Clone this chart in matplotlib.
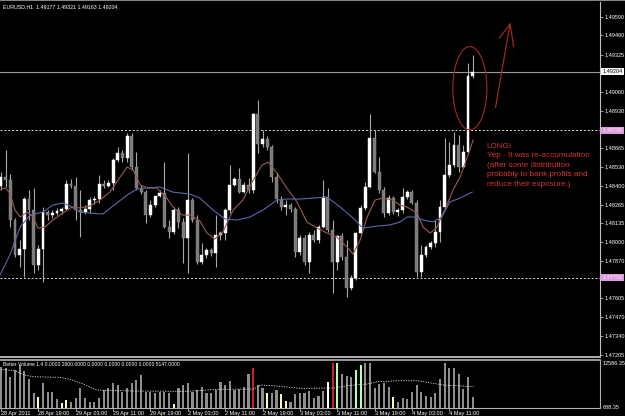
import numpy as np
import matplotlib
matplotlib.use("Agg")
import matplotlib.pyplot as plt
import matplotlib.transforms as mtransforms
from matplotlib.patches import Ellipse
from matplotlib import font_manager


def pick_font(*names):
    for n in names:
        try:
            font_manager.findfont(n, fallback_to_default=False)
            return n
        except ValueError:
            pass
    return "DejaVu Sans"


SMALL = pick_font("Liberation Sans Narrow", "Liberation Sans")
NOTE = pick_font("Liberation Sans", "DejaVu Sans")

# EURUSD H1 candles, 28 Apr 2011 11:00 .. 4 May 2011 16:00
opens = [1.48397, 1.48460, 1.48439, 1.48157, 1.47910, 1.47952, 1.48305, 1.48227, 1.47839, 1.47952,
         1.48213, 1.48192, 1.48206, 1.48220, 1.48234, 1.48411, 1.48397, 1.48227, 1.48213, 1.48234,
         1.48298, 1.48305, 1.48411, 1.48397, 1.48418, 1.48580, 1.48630, 1.48594, 1.48750, 1.48531,
         1.48383, 1.48354, 1.48192, 1.48263, 1.48326, 1.48347, 1.48107, 1.48072, 1.48227, 1.48143,
         1.48030, 1.48298, 1.48157, 1.47860, 1.47910, 1.47945, 1.47924, 1.48051, 1.48065, 1.48227,
         1.48404, 1.48446, 1.48354, 1.48404, 1.48369, 1.48905, 1.48693, 1.48729, 1.48672, 1.48460,
         1.48305, 1.48249, 1.48263, 1.48234, 1.47931, 1.48030, 1.47860, 1.48051, 1.48016, 1.48107,
         1.48319, 1.48086, 1.47860, 1.48044, 1.47896, 1.47677, 1.47747, 1.48065, 1.48242, 1.48390,
         1.48736, 1.48496, 1.48369, 1.48206, 1.48312, 1.48213, 1.48227, 1.48319, 1.48354, 1.48277,
         1.47790, 1.47910, 1.47966, 1.47994, 1.48072, 1.48249, 1.48474, 1.48545, 1.48686, 1.48531,
         1.48637, 1.49177]
highs = [1.48496, 1.48651, 1.48482, 1.48171, 1.48016, 1.48319, 1.48369, 1.48383, 1.47980, 1.48249,
         1.48227, 1.48227, 1.48242, 1.48249, 1.48439, 1.48446, 1.48460, 1.48369, 1.48263, 1.48319,
         1.48326, 1.48474, 1.48439, 1.48439, 1.48594, 1.48672, 1.48651, 1.48771, 1.48771, 1.48637,
         1.48404, 1.48369, 1.48298, 1.48312, 1.48369, 1.48566, 1.48157, 1.48249, 1.48249, 1.48171,
         1.48630, 1.48312, 1.48192, 1.47994, 1.47959, 1.47959, 1.48192, 1.48079, 1.48242, 1.48545,
         1.48460, 1.48524, 1.48425, 1.48453, 1.48912, 1.49004, 1.48792, 1.48750, 1.48686, 1.48489,
         1.48326, 1.48298, 1.48277, 1.48249, 1.48051, 1.48051, 1.48072, 1.48086, 1.48121, 1.48439,
         1.48383, 1.48157, 1.48051, 1.48065, 1.48016, 1.47768, 1.48072, 1.48263, 1.48425, 1.48905,
         1.48792, 1.48602, 1.48390, 1.48333, 1.48326, 1.48242, 1.48383, 1.48369, 1.48369, 1.48298,
         1.47980, 1.47980, 1.48008, 1.48157, 1.48298, 1.48736, 1.48707, 1.48778, 1.48757, 1.48686,
         1.49265, 1.49321]
lows = [1.48369, 1.48390, 1.48107, 1.47896, 1.47825, 1.47754, 1.48157, 1.47783, 1.47804, 1.47719,
        1.48157, 1.48171, 1.48192, 1.48199, 1.48227, 1.48383, 1.48157, 1.48037, 1.48199, 1.48206,
        1.48270, 1.48277, 1.48383, 1.48390, 1.48369, 1.48566, 1.48566, 1.48566, 1.48510, 1.48369,
        1.48340, 1.48136, 1.48178, 1.48249, 1.48319, 1.48100, 1.48030, 1.48058, 1.48100, 1.47853,
        1.47783, 1.48143, 1.47846, 1.47846, 1.47888, 1.47903, 1.47825, 1.48016, 1.48016, 1.48206,
        1.48397, 1.48347, 1.48347, 1.48347, 1.48347, 1.48630, 1.48672, 1.48651, 1.48425, 1.48277,
        1.48227, 1.48192, 1.48213, 1.47896, 1.47910, 1.47839, 1.47783, 1.48001, 1.47994, 1.48100,
        1.48072, 1.47641, 1.47804, 1.47874, 1.47613, 1.47663, 1.47732, 1.48051, 1.48227, 1.48383,
        1.48489, 1.48347, 1.48178, 1.48192, 1.48199, 1.48185, 1.48206, 1.48305, 1.48270, 1.47754,
        1.47754, 1.47896, 1.47952, 1.47966, 1.48001, 1.48242, 1.48460, 1.48531, 1.48496, 1.48524,
        1.48630, 1.49163]
closes = [1.48460, 1.48439, 1.48157, 1.47910, 1.47952, 1.48305, 1.48227, 1.47839, 1.47952, 1.48213,
          1.48192, 1.48206, 1.48220, 1.48234, 1.48411, 1.48397, 1.48227, 1.48213, 1.48234, 1.48298,
          1.48305, 1.48411, 1.48397, 1.48418, 1.48580, 1.48630, 1.48594, 1.48750, 1.48531, 1.48383,
          1.48354, 1.48192, 1.48263, 1.48326, 1.48347, 1.48107, 1.48072, 1.48227, 1.48143, 1.48030,
          1.48298, 1.48157, 1.47860, 1.47910, 1.47945, 1.47924, 1.48051, 1.48065, 1.48227, 1.48404,
          1.48446, 1.48354, 1.48404, 1.48369, 1.48905, 1.48693, 1.48729, 1.48672, 1.48460, 1.48305,
          1.48249, 1.48263, 1.48234, 1.47931, 1.48030, 1.47860, 1.48051, 1.48016, 1.48107, 1.48319,
          1.48086, 1.47860, 1.48044, 1.47896, 1.47677, 1.47747, 1.48065, 1.48242, 1.48390, 1.48736,
          1.48496, 1.48369, 1.48206, 1.48312, 1.48213, 1.48227, 1.48319, 1.48354, 1.48277, 1.47790,
          1.47910, 1.47966, 1.47994, 1.48072, 1.48249, 1.48474, 1.48545, 1.48686, 1.48531, 1.48637,
          1.49175, 1.49204]

# Better Volume histogram (ticks) and bar type: g=normal, y=low, r=climax, w=climax low, n=churn
volumes = [11600, 11160, 8960, 10720, 12040, 10544, 8256, 4560, 3680, 7200,
           5000, 5000, 2976, 2096, 2800, 2360, 3416, 5880, 3240, 2360,
           2360, 3240, 5440, 5880, 7200, 6760, 5000, 5880, 7200, 8080,
           9400, 5000, 5000, 4560, 5000, 5000, 4560, 1656, 5880, 6760,
           7200, 5000, 5440, 6320, 4560, 4560, 5440, 7640, 6760, 7816,
           5440, 5616, 6320, 9664, 11160, 6760, 5880, 4560, 4736, 5440,
           4384, 2624, 2360, 4296, 4560, 4736, 5264, 3240, 3856, 5264,
           7464, 12480, 12586, 9664, 9136, 8784, 10720, 12040, 12550, 12480,
           5880, 7024, 7200, 6144, 3504, 2184, 3240, 2976, 5000, 6760,
           5000, 3856, 3680, 4736, 8344, 12500, 11160, 11160, 9576, 5616,
           8784, 3680]
vol_kind = "ggggggggyggggyyggggggggggggggggggggggyggggggggggggggggrggyggyyggggggggwrngggnnggggggyggggggggggggggggg"

# moving averages (bar index, price)
ma_fast_x = [-0.2, 0.9, 1.9, 3.0, 4.1, 5.6, 6.9, 7.9, 9.4, 11.1, 13.3, 15.2, 16.9, 19.1, 21.2, 23.3,
             25.5, 27.0, 28.3, 29.8, 31.5, 33.4, 35.5, 36.8, 38.8, 40.5, 42.6, 44.1, 45.8, 47.5,
             49.7, 51.8, 54.0, 55.9, 57.2, 59.1, 61.2, 63.4, 65.5, 67.7, 69.8, 71.9, 74.1, 75.4,
             76.9, 78.4, 80.1, 81.8, 83.9, 85.4, 86.9, 89.1, 90.4, 91.9, 93.4, 94.0, 95.5, 96.8,
             98.3, 99.4, 100.4, 101.1]
ma_fast_y = [1.48369, 1.48383, 1.48347, 1.48227, 1.48178, 1.48213, 1.48178, 1.48100, 1.48107, 1.48157,
             1.48206, 1.48249, 1.48242, 1.48256, 1.48298, 1.48354, 1.48460, 1.48531, 1.48510, 1.48404,
             1.48383, 1.48383, 1.48312, 1.48249, 1.48192, 1.48192, 1.48150, 1.48065, 1.48023, 1.48072,
             1.48227, 1.48298, 1.48439, 1.48545, 1.48566, 1.48489, 1.48383, 1.48284, 1.48143, 1.48100,
             1.48065, 1.48037, 1.47966, 1.47917, 1.48016, 1.48178, 1.48298, 1.48312, 1.48298, 1.48263,
             1.48249, 1.48206, 1.48107, 1.48065, 1.48107, 1.48157, 1.48263, 1.48369, 1.48460, 1.48559,
             1.48651, 1.48722]
ma_slow_x = [-0.2, 1.9, 4.1, 6.2, 9.0, 11.1, 13.3, 14.8, 16.9, 19.1, 21.8, 24.8, 27.0, 29.1, 31.3,
             34.0, 36.8, 40.5, 42.6, 45.4, 48.0, 50.5, 53.3, 56.1, 59.1, 61.2, 64.0, 66.8, 69.8,
             72.6, 75.4, 77.5, 80.5, 83.3, 85.4, 86.9, 88.7, 90.4, 92.5, 94.4, 96.1, 98.3, 100.9]
ma_slow_y = [1.47769, 1.47910, 1.48107, 1.48192, 1.48213, 1.48263, 1.48277, 1.48256, 1.48213, 1.48206,
             1.48199, 1.48277, 1.48333, 1.48376, 1.48383, 1.48390, 1.48354, 1.48340, 1.48312, 1.48227,
             1.48164, 1.48157, 1.48178, 1.48227, 1.48298, 1.48305, 1.48305, 1.48312, 1.48319, 1.48249,
             1.48171, 1.48100, 1.48114, 1.48122, 1.48143, 1.48178, 1.48178, 1.48157, 1.48143, 1.48178,
             1.48284, 1.48312, 1.48354]

# average volume line (dashed)
vol_avg_x = [0, 3.0, 5.1, 6.9, 12.6, 14.8, 17.3, 20.5, 28.4, 39.8, 46.2, 54.1, 55.5, 59.1, 64.1,
             71.2, 74.8, 78.4, 80.5, 85.5, 89.1, 92.6, 94.8, 101.2]
vol_avg_y = [10896, 10544, 9400, 8960, 8784, 8256, 7200, 5440, 5176, 5088, 5616, 5704, 6760, 6496,
             5880, 5968, 6672, 7024, 7640, 7904, 7904, 7200, 6760, 6320]

price_ticks = [1.49590, 1.49460, 1.49325, 1.49060, 1.48930, 1.48665, 1.48530, 1.48400, 1.48265,
               1.48135, 1.48000, 1.47870, 1.47605, 1.47470, 1.47340, 1.47205]
level_lines = [1.48790, 1.47750]
bid = 1.49204

time_pos = [0, 8, 16, 24, 32, 40, 48, 56, 64, 72, 80, 88, 96]
time_labels = ["28 Apr 2011", "28 Apr 19:00", "29 Apr 03:00", "29 Apr 11:00", "29 Apr 19:00",
               "2 May 03:00", "2 May 11:00", "2 May 19:00", "3 May 03:00", "3 May 11:00",
               "3 May 19:00", "4 May 03:00", "4 May 11:00"]

AX_FS = 4.0

o = np.array(opens)
h = np.array(highs)
l = np.array(lows)
c = np.array(closes)
x = np.arange(len(c))
up = c >= o

fig = plt.figure(figsize=(6.25, 4.16), dpi=100, facecolor="black")
ax = fig.add_axes([0, 1 - 357 / 416, 600 / 625, 355 / 416], facecolor="black")
axv = fig.add_axes([0, 1 - 408 / 416, 600 / 625, 48 / 416], facecolor="black", sharex=ax)

# candles
ax.vlines(x, l, h, color="#a8a8a8", lw=0.8, zorder=2)
ax.bar(x[up], np.maximum(c[up] - o[up], 0.00002), bottom=o[up], width=0.62,
       color="white", edgecolor="white", lw=0.3, zorder=3)
ax.bar(x[~up], o[~up] - c[~up], bottom=c[~up], width=0.62,
       color="#7c7c7c", edgecolor="#8c8c8c", lw=0.3, zorder=3)

ax.plot(ma_fast_x, ma_fast_y, color="#9a5a50", lw=0.8, zorder=4)
ax.plot(ma_slow_x, ma_slow_y, color="#5c68a8", lw=0.8, zorder=4)

for lv in level_lines:
    ax.axhline(lv, color="#d8d8d8", lw=0.7, ls=(0, (2, 2)), zorder=1)
ax.axhline(bid, color="#9a9a9a", lw=0.8, zorder=1)

ax.set_xlim(-0.214, 128.27)
ax.set_ylim(1.47190, 1.49696)

# hand drawn annotation
red = "#a02828"
ax.add_patch(Ellipse((100.4, 1.49087), 7.3, 0.00588, fill=False, ec=red, lw=0.8, zorder=5))
ax.plot([105.9, 109.0], [1.48952, 1.49541], color=red, lw=0.9, zorder=5)
ax.plot([106.7, 109.0, 109.8], [1.49440, 1.49541, 1.49380], color=red, lw=0.9, zorder=5)
ax.text(104.0, 1.48700, "LONG!\nYep - It was re-accumulation\n(after some distribution\n"
        "probably to bank profits and\nreduce their exposure.)",
        color="#d43434", fontsize=5.9, family=NOTE, va="top", ha="left", linespacing=1.48)

ax.text(0.005, 0.993, "EURUSD,H1  1.49177 1.49321 1.49163 1.49204", transform=ax.transAxes,
        color="white", fontsize=3.8, family=SMALL, va="top", ha="left")

# price axis on the right
ax.yaxis.tick_right()
ax.set_yticks(price_ticks)
ax.set_yticklabels([f"{p:.5f}" for p in price_ticks])
ax.tick_params(axis="y", length=2, width=0.6, color="#b0b0b0", labelcolor="white",
               labelsize=AX_FS, pad=1)
for lbl in ax.get_yticklabels():
    lbl.set_family(SMALL)
ax.tick_params(axis="x", bottom=False, labelbottom=False)

blend = mtransforms.blended_transform_factory(ax.transAxes, ax.transData)
ax.text(1.004, bid, f"{bid:.5f}", transform=blend, fontsize=AX_FS, family=SMALL, color="black",
        va="center", ha="left", bbox=dict(boxstyle="square,pad=0.2", fc="white", ec="none"))
for lv in level_lines:
    ax.text(1.004, lv, f"{lv:.5f}", transform=blend, fontsize=AX_FS, family=SMALL, color="#fbe4fb",
            va="center", ha="left", bbox=dict(boxstyle="square,pad=0.2", fc="#dc9cdc", ec="none"))

for side in ["top", "left"]:
    ax.spines[side].set_visible(False)
ax.spines["right"].set_color("#c0c0c0")
ax.spines["bottom"].set_color("#b0b0b0")
ax.spines["bottom"].set_linewidth(1.4)

# volume panel
kind_colors = {"g": "#8e8e8e", "y": "#ffffb4", "r": "#c82222", "w": "#ffffff", "n": "#b4ffb4"}
axv.bar(x, volumes, width=0.45, color=[kind_colors[k] for k in vol_kind], zorder=2)
axv.plot(vol_avg_x, vol_avg_y, color="#e0e0e0", lw=0.6, ls=(0, (1.5, 1.5)), zorder=3)
axv.set_ylim(688.35, 13380)
axv.set_yticks([])
axv.text(0.005, 0.96, "Better Volume 1.4 0.0000 2600.0000 0.0000 0.0000 0.0000 0.0000 5147.0000",
         transform=axv.transAxes, color="white", fontsize=3.6, family=SMALL, va="top", ha="left")
axv.text(1.004, 12586.35, "12586.35", transform=mtransforms.blended_transform_factory(
    axv.transAxes, axv.transData), color="white", fontsize=AX_FS, family=SMALL, va="center", ha="left")
axv.text(1.004, 0.02, "688.35", transform=axv.transAxes, color="white", fontsize=AX_FS,
         family=SMALL, va="center", ha="left")

axv.set_xticks(time_pos)
axv.set_xticklabels(time_labels, ha="left")
axv.tick_params(axis="x", length=2, width=0.6, color="#b0b0b0", labelcolor="white",
                labelsize=AX_FS, pad=0.5)
for lbl in axv.get_xticklabels():
    lbl.set_family(SMALL)
axv.spines["left"].set_visible(False)
for side in ["top", "right", "bottom"]:
    axv.spines[side].set_color("#b0b0b0")
axv.spines["top"].set_linewidth(1.2)

# window frame
fig.add_artist(plt.Line2D([0, 1], [0.999, 0.999], color="#a0a0a0", lw=1.2))

fig.savefig("out.png", dpi=100, facecolor="black")
